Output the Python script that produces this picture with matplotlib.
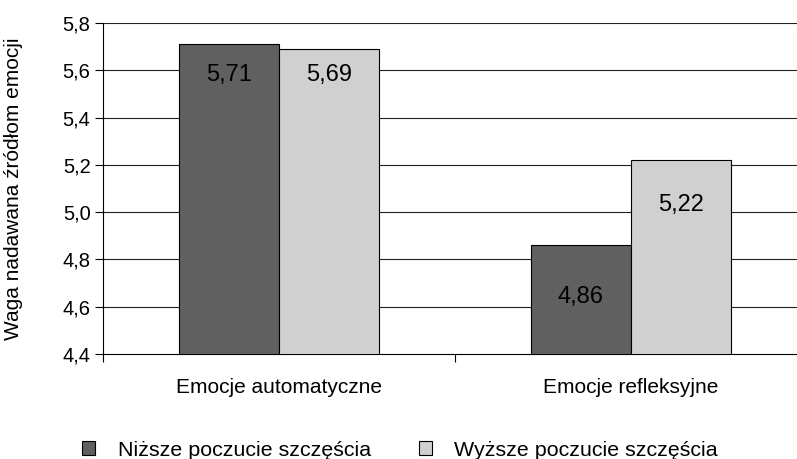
import matplotlib.pyplot as plt
import numpy as np

plt.rcParams['font.family'] = ['Liberation Sans', 'DejaVu Sans']

categories = ['Emocje automatyczne', 'Emocje refleksyjne']
series_names = ['Niższe poczucie szczęścia', 'Wyższe poczucie szczęścia']
low_happy = [5.71, 4.86]
high_happy = [5.69, 5.22]
y_ticks = [4.4, 4.6, 4.8, 5.0, 5.2, 5.4, 5.6, 5.8]

# where the value labels sit inside the bars
label_y_low = [5.58, 4.64]
label_y_high = [5.58, 5.03]

colors = ['#606060', '#d0d0d0']

fig = plt.figure(figsize=(7.97, 4.59), dpi=100)
ax = fig.add_axes([103 / 797, 1 - 354 / 459, 704 / 797, 331 / 459])

x = np.arange(len(categories))
w = 0.285

b1 = ax.bar(x - w / 2, low_happy, w, color=colors[0], edgecolor='black', linewidth=0.8,
            label=series_names[0], zorder=3)
b2 = ax.bar(x + w / 2, high_happy, w, color=colors[1], edgecolor='black', linewidth=0.8,
            label=series_names[1], zorder=3)

def fmt(v, nd):
    return f'{v:.{nd}f}'.replace('.', ',')

for i in range(len(categories)):
    ax.text(x[i] - w / 2, label_y_low[i], fmt(low_happy[i], 2), ha='center', va='center',
            fontsize=17, zorder=4)
    ax.text(x[i] + w / 2, label_y_high[i], fmt(high_happy[i], 2), ha='center', va='center',
            fontsize=17, zorder=4)

ax.set_ylim(4.4, 5.8)
ax.set_xlim(-0.5, 1.5)
ax.set_yticks(y_ticks)
ax.set_yticklabels([fmt(t, 1) for t in y_ticks], fontsize=14.5)
for t in y_ticks[1:]:
    ax.axhline(t, color='#202020', linewidth=0.8, zorder=1)

ax.set_xticks([-0.5, 0.5])
ax.set_xticklabels(['', ''])
ax.tick_params(axis='x', length=6, width=0.8, direction='out')
ax.tick_params(axis='y', length=6, width=0.8, direction='out', pad=3)
for i, c in enumerate(categories):
    ax.text(x[i], -0.1, c, transform=ax.get_xaxis_transform(), ha='center', va='center',
            fontsize=15)

for s in ['top', 'right']:
    ax.spines[s].set_visible(False)
ax.spines['left'].set_linewidth(0.8)
ax.spines['bottom'].set_linewidth(0.8)

ax.set_ylabel('Waga nadawana źródłom emocji', fontsize=15)
ax.yaxis.set_label_coords(-0.113, 0.5)

fig.legend(handles=[b1, b2], loc='center', bbox_to_anchor=(400 / 797, 1 - 450 / 459),
           ncol=2, frameon=False, fontsize=15.4, handlelength=0.61, handleheight=0.61,
           columnspacing=2.25, handletextpad=1.05, borderpad=0.2)

fig.savefig('out.png', dpi=100)
